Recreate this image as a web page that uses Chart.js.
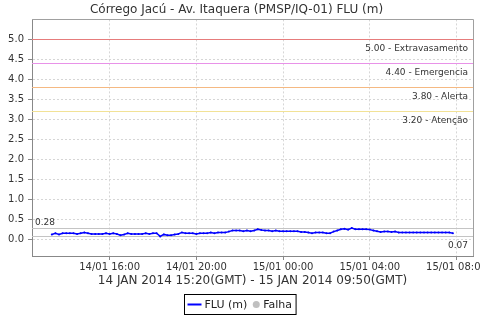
<!DOCTYPE html>
<html>
<head>
<meta charset="utf-8">
<script src="https://cdn.jsdelivr.net/npm/chart.js@4"></script>
<style>
  html, body { margin:0; padding:0; background:#fff; }
  #wrap { width:480px; height:320px; }
</style>
</head>
<body>
<div id="wrap"><canvas id="fluChart" width="480" height="320"></canvas></div>
<script>
// ==================== DATA ====================
const chartTitle = "Córrego Jacú - Av. Itaquera (PMSP/IQ-01) FLU (m)";
const periodText = "14 JAN 2014 15:20(GMT) - 15 JAN 2014 09:50(GMT)";

// readings every 10 min, starting 14/01 13:20 (local axis time)
const startHour = 13 + 20 / 60;
const stepMinutes = 10;
const fluValues = [
    0.12, 0.15, 0.12, 0.15, 0.15, 0.15, 0.15, 0.13, 0.15, 0.17,
    0.15, 0.13, 0.13, 0.13, 0.13, 0.15, 0.13, 0.15, 0.13, 0.10,
    0.12, 0.15, 0.13, 0.13, 0.13, 0.13, 0.15, 0.13, 0.15, 0.15,
    0.07, 0.12, 0.10, 0.10, 0.12, 0.13, 0.17, 0.15, 0.15, 0.15,
    0.13, 0.15, 0.15, 0.15, 0.17, 0.15, 0.17, 0.17, 0.17, 0.19,
    0.22, 0.22, 0.22, 0.20, 0.22, 0.20, 0.22, 0.25, 0.23, 0.22,
    0.22, 0.20, 0.22, 0.20, 0.20, 0.20, 0.20, 0.20, 0.20, 0.18,
    0.18, 0.17, 0.15, 0.17, 0.17, 0.17, 0.15, 0.15, 0.19, 0.22,
    0.25, 0.26, 0.24, 0.28, 0.25, 0.25, 0.25, 0.25, 0.24, 0.22,
    0.20, 0.18, 0.19, 0.19, 0.18, 0.19, 0.17, 0.17, 0.17, 0.17,
    0.17, 0.17, 0.17, 0.17, 0.17, 0.17, 0.17, 0.17, 0.17, 0.17,
    0.17, 0.15
];

const xTickHours = [16, 20, 24, 28, 32];
const xTickLabels = ["14/01 16:00", "14/01 20:00", "15/01 00:00", "15/01 04:00", "15/01 08:00"];
const yTickValues = [0, 0.5, 1, 1.5, 2, 2.5, 3, 3.5, 4, 4.5, 5];

const limitValues = [5.00, 4.40, 3.80, 3.20];
const limitNames = ["Extravasamento", "Emergencia", "Alerta", "Atenção"];
const limitColors = ["#e67c7c", "#e892e8", "#f5b982", "#f2e296"];

const FONT = "'DejaVu Sans', sans-serif";

// ==================== HELPERS ====================
const points = fluValues.map((v, i) => ({ x: startHour + i * stepMinutes / 60, y: v }));
const maxFlu = Math.max(...fluValues);
const minFlu = Math.min(...fluValues);

function hLine(ctx, area, y, color){
    ctx.save();
    ctx.setLineDash([]);
    ctx.strokeStyle = color;
    ctx.lineWidth = 1;
    ctx.beginPath();
    ctx.moveTo(area.left, Math.round(y) + 0.5);
    ctx.lineTo(area.right, Math.round(y) + 0.5);
    ctx.stroke();
    ctx.restore();
}

// ==================== PLUGINS ====================
const limitsPlugin = {
    id: "limits",
    beforeDatasetsDraw(chart){
        const { ctx, chartArea: a, scales: { y } } = chart;
        ctx.save();
        ctx.font = "9px " + FONT;
        ctx.fillStyle = "#333";
        ctx.textAlign = "right";
        ctx.textBaseline = "middle";
        limitValues.forEach((v, i) => {
            const py = y.getPixelForValue(v);
            hLine(ctx, a, py, limitColors[i]);
            ctx.fillText(v.toFixed(2) + " - " + limitNames[i], a.right - 5, py + 9);
        });
        // max / min markers
        const pMax = y.getPixelForValue(maxFlu);
        const pMin = y.getPixelForValue(minFlu);
        hLine(ctx, a, pMax, "#c4c4c4");
        hLine(ctx, a, pMin, "#c4c4c4");
        ctx.textAlign = "left";
        ctx.fillText(maxFlu.toFixed(2), a.left + 3, pMax - 5);
        ctx.textAlign = "right";
        ctx.fillText(minFlu.toFixed(2), a.right - 5, pMin + 9);
        ctx.restore();
    },
    afterDraw(chart){
        const { ctx, chartArea: a } = chart;
        ctx.save();
        // plot frame (top/right)
        ctx.strokeStyle = "#a0a0a0";
        ctx.lineWidth = 1;
        ctx.beginPath();
        ctx.moveTo(a.left, Math.round(a.top) + 0.5);
        ctx.lineTo(Math.round(a.right) + 0.5, Math.round(a.top) + 0.5);
        ctx.lineTo(Math.round(a.right) + 0.5, a.bottom);
        ctx.stroke();

        // period text
        const cx = (a.left + a.right) / 2;
        ctx.fillStyle = "#333";
        ctx.font = "12px " + FONT;
        ctx.textAlign = "center";
        ctx.textBaseline = "middle";
        ctx.fillText(periodText, cx, 281);

        // legend
        const ds = chart.data.datasets[0];
        ctx.font = "11px " + FONT;
        const w1 = ctx.measureText(ds.label).width;
        const w2 = ctx.measureText("Falha").width;
        const boxW = 3 + 14 + 3 + w1 + 6 + 7 + 3 + w2 + 4;
        const bx = Math.round(chart.width / 2 - boxW / 2) + 0.5, by = 294.5, bh = 20;
        ctx.fillStyle = "#fff";
        ctx.fillRect(bx, by, boxW, bh);
        ctx.strokeStyle = "#000";
        ctx.strokeRect(bx, by, boxW, bh);
        const my = by + bh / 2;
        let px = bx + 3;
        ctx.strokeStyle = ds.borderColor;
        ctx.lineWidth = 2;
        ctx.beginPath();
        ctx.moveTo(px, my); ctx.lineTo(px + 14, my);
        ctx.stroke();
        px += 17;
        ctx.fillStyle = "#222";
        ctx.textAlign = "left";
        ctx.fillText(ds.label, px, my + 1);
        px += w1 + 9;
        ctx.fillStyle = "#c0c0c0";
        ctx.beginPath();
        ctx.arc(px, my, 3.5, 0, Math.PI * 2);
        ctx.fill();
        px += 7;
        ctx.fillStyle = "#222";
        ctx.fillText("Falha", px, my + 1);
        ctx.restore();
    }
};

// ==================== CHART ====================
function initChart(){
    const ctx = document.getElementById("fluChart").getContext("2d");
    new Chart(ctx, {
        type: "line",
        data: {
            datasets: [{
                label: "FLU (m)",
                data: points,
                borderColor: "#0000ff",
                backgroundColor: "#0000ff",
                borderWidth: 1.5,
                pointRadius: 1,
                pointBorderWidth: 0,
                tension: 0
            }]
        },
        options: {
            responsive: false,
            animation: false,
            layout: { padding: { left: 0, right: 7, top: 0, bottom: 0 } },
            plugins: {
                legend: { display: false },
                tooltip: { enabled: false },
                title: {
                    display: true,
                    text: chartTitle,
                    color: "#333",
                    font: { family: FONT, size: 12, weight: "normal" },
                    padding: { top: 3, bottom: 2 }
                }
            },
            scales: {
                x: {
                    type: "linear",
                    min: 12.42,
                    max: 32.76,
                    afterBuildTicks: s => { s.ticks = xTickHours.map(v => ({ value: v })); },
                    afterFit: s => { s.height = 64; s.paddingLeft = 0; s.paddingRight = 0; },
                    ticks: {
                        autoSkip: false,
                        maxRotation: 0,
                        padding: 1,
                        color: "#333",
                        font: { family: FONT, size: 10 },
                        callback: (v) => xTickLabels[xTickHours.indexOf(v)]
                    },
                    grid: { color: "#d6d6d6", tickLength: 4, tickColor: "#888", tickBorderDash: [] },
                    border: { display: true, color: "#888", dash: [2, 2] }
                },
                y: {
                    min: -0.42,
                    max: 5.5,
                    afterBuildTicks: s => { s.ticks = yTickValues.map(v => ({ value: v })); },
                    afterFit: s => { s.width = 32; },
                    ticks: {
                        padding: 4,
                        color: "#333",
                        font: { family: FONT, size: 10 },
                        callback: (v) => v.toFixed(1)
                    },
                    grid: { color: "#d6d6d6", tickLength: 4, tickColor: "#888", tickBorderDash: [] },
                    border: { display: true, color: "#888", dash: [2, 2] }
                }
            }
        },
        plugins: [limitsPlugin]
    });
}

window.addEventListener("load", initChart);
</script>
</body>
</html>
